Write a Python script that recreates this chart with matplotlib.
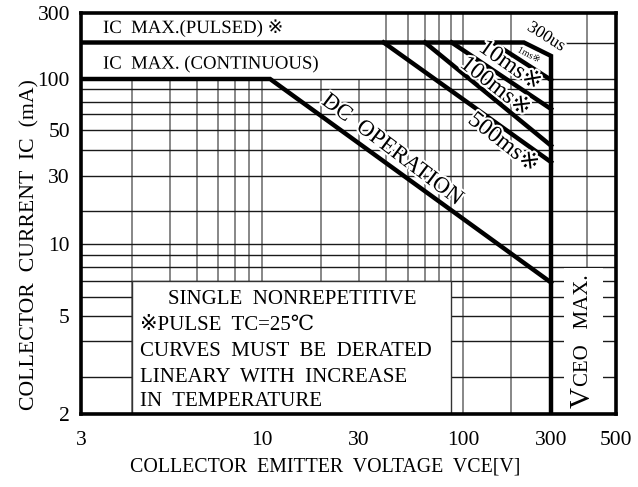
import matplotlib
matplotlib.use('Agg')
import matplotlib.pyplot as plt
import matplotlib.patheffects as pe
from matplotlib.patches import Rectangle
import numpy as np

# Datos (VCE en V, IC en mA)
x_ticks = [3, 10, 30, 100, 300, 500]
y_ticks = [2, 5, 10, 30, 50, 100, 300]

# lineas de grade
x_grid_low = [4, 5, 6, 7, 8, 9, 10, 20, 30]
x_grid_full = [40, 50, 60, 70, 80, 100, 200, 400]
y_grid = [3, 4, 5, 6, 7, 8, 9, 10, 20, 30, 40, 50, 60, 70, 80, 100]

# curvas de operação segura
pulsed_v = [3, 228, 300, 300]     # IC max pulsado + 300us + VCEO max
pulsed_i = [200, 200, 155, 2]
dc_v = [3, 11, 300]               # IC max continuo + DC
dc_i = [100, 100, 6.9]
ms1_v = [154, 300]
ms1_i = [200, 98]
ms10_v = [81, 300]
ms10_i = [200, 64]
ms100_v = [60, 300]
ms100_i = [200, 42]
ms500_v = [39, 300]
ms500_i = [200, 35]

# Calibração da escala desenhada à mão no datasheet (pixel de cada valor)
x_cal_v = [3, 4, 5, 6, 7, 8, 9, 10, 20, 30, 40, 50, 60, 70, 80, 100, 200, 300, 400, 500]
x_cal_p = [81, 132, 170, 197, 218, 235, 249, 262, 321, 359, 386, 408, 425, 439, 451, 463, 511, 551, 587, 616]
y_cal_v = [2, 3, 4, 5, 6, 7, 8, 9, 10, 20, 30, 40, 50, 60, 70, 80, 100, 200, 300]
y_cal_p = [414, 377, 341, 316, 297, 281, 267, 255, 244, 211, 176, 150, 130, 114, 102, 89, 79, 42.5, 13]


def escala(vals, pos):
    lv = np.log10(vals)
    pos = np.asarray(pos, float)
    s0 = (pos[1] - pos[0]) / (lv[1] - lv[0])
    s1 = (pos[-1] - pos[-2]) / (lv[-1] - lv[-2])
    lv_e = np.concatenate([[lv[0] - 10], lv, [lv[-1] + 10]])
    pos_e = np.concatenate([[pos[0] - 10 * s0], pos, [pos[-1] + 10 * s1]])

    def fwd(v):
        v = np.asarray(v, float)
        with np.errstate(divide='ignore', invalid='ignore'):
            l = np.log10(v)
        return np.interp(l, lv_e, pos_e)

    def inv(p):
        p = np.asarray(p, float)
        return 10 ** np.interp(p, pos_e, lv_e)
    return fwd, inv


W, H = 638, 487
fonte = ['Liberation Serif', 'DejaVu Serif', 'DejaVu Sans', 'Noto Sans CJK JP']
plt.rcParams['font.family'] = fonte

fig = plt.figure(figsize=(W / 100, H / 100), dpi=100)
ax = fig.add_axes([81 / W, 1 - 414 / H, (616 - 81) / W, (414 - 13) / H])
ax.set_xscale('function', functions=escala(x_cal_v, x_cal_p))
ax.set_yscale('function', functions=escala(y_cal_v, -np.array(y_cal_p)))
ax.set_xlim(3, 500)
ax.set_ylim(2, 300)

# grade
ax.vlines(x_grid_low, 2, 100, color='0.45', lw=1.2, zorder=1)
ax.vlines(x_grid_full, 2, 300, color='0.45', lw=1.2, zorder=1)
ax.hlines(y_grid, 3, 500, color='0.1', lw=1.0, zorder=1)
ax.hlines([200], 300, 500, color='0.1', lw=1.0, zorder=1)

# caixas brancas
ax.add_patch(Rectangle((4, 2), 80 - 4, 7 - 2, facecolor='white', edgecolor='0.2', lw=1.0, zorder=2))
ax.add_patch(Rectangle((332, 2), 452 - 332, 7.95 - 2, facecolor='white', edgecolor='none', zorder=2))

# curvas
lw = 3.2
for v, i in [(pulsed_v, pulsed_i), (dc_v, dc_i), (ms1_v, ms1_i), (ms10_v, ms10_i),
             (ms100_v, ms100_i), (ms500_v, ms500_i)]:
    ax.plot(v, i, color='black', lw=lw, solid_joinstyle='miter', zorder=3)

ax.set_xticks(x_ticks)
ax.set_xticklabels([str(t) for t in x_ticks])
ax.set_yticks(y_ticks)
ax.set_yticklabels([str(t) for t in y_ticks])
ax.minorticks_off()
ax.tick_params(length=0, labelsize=15.5, pad=8)
ax.tick_params(axis='x', pad=12)
for s in ax.spines.values():
    s.set_linewidth(2.6)
    s.set_zorder(5)


def txt(x, y, s, **kw):
    halo = kw.pop('halo', True)
    t = fig.text(x / W, 1 - y / H, s, **kw)
    if halo:
        t.set_path_effects([pe.withStroke(linewidth=3, foreground='white')])
    t.set_zorder(4)
    return t


txt(103, 28, 'IC  MAX.(PULSED) ※', fontsize=13.5, ha='left', va='center')
txt(103, 64, 'IC  MAX. (CONTINUOUS)', fontsize=13.5, ha='left', va='center')
txt(392, 150, 'DC  OPERATION', fontsize=16.5, rotation=-37, ha='center', va='center', rotation_mode='anchor')
txt(546, 37, '300us', fontsize=12.5, rotation=-32, ha='center', va='center', rotation_mode='anchor')
txt(529, 55, '1ms※', fontsize=7, rotation=-28, ha='center', va='center', rotation_mode='anchor')
txt(510, 66, '10ms※', fontsize=17, rotation=-35, ha='center', va='center', rotation_mode='anchor')
txt(495, 87, '100ms※', fontsize=17, rotation=-38, ha='center', va='center', rotation_mode='anchor')
txt(503, 143, '500ms※', fontsize=17, rotation=-38, ha='center', va='center', rotation_mode='anchor')

txt(168, 300, 'SINGLE  NONREPETITIVE', fontsize=15, ha='left', va='center', halo=False)
txt(140, 325, '※PULSE  TC=25℃', fontsize=15, ha='left', va='center', halo=False)
txt(140, 352, 'CURVES  MUST  BE  DERATED', fontsize=15, ha='left', va='center', halo=False)
txt(140, 378, 'LINEARY  WITH  INCREASE', fontsize=15, ha='left', va='center', halo=False)
txt(140, 402, 'IN  TEMPERATURE', fontsize=15, ha='left', va='center', halo=False)

txt(583, 398, 'V', fontsize=21, rotation=90, ha='center', va='center', halo=False)
txt(583, 330, 'CEO   MAX.', fontsize=15, rotation=90, ha='center', va='center', halo=False)

txt(325, 467, 'COLLECTOR  EMITTER  VOLTAGE  VCE[V]', fontsize=14.3, ha='center', va='center', halo=False)
txt(30, 245, 'COLLECTOR  CURRENT  IC  (mA)', fontsize=15.7, rotation=90, ha='center', va='center', halo=False)

fig.savefig('out.png', dpi=100)
